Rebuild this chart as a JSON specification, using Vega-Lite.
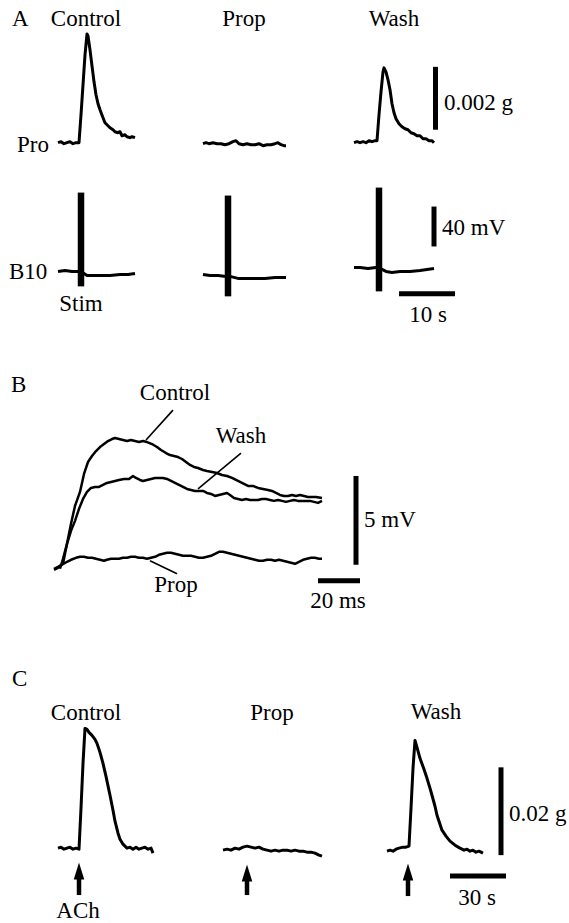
{
  "$schema": "https://vega.github.io/schema/vega-lite/v6.json",
  "width": 569,
  "height": 923,
  "autosize": {"type": "fit", "contains": "padding"},
  "padding": 0,
  "background": "white",
  "config": {"view": {"stroke": null}, "text": {"font": "'Liberation Serif', 'Times New Roman', 'DejaVu Serif', serif"}},
  "datasets": {
    "tracesAC": [
      {"s":"A_ctrl","x":58,"y":143},{"s":"A_ctrl","x":61,"y":142},{"s":"A_ctrl","x":64,"y":144},{"s":"A_ctrl","x":67,"y":143},{"s":"A_ctrl","x":70,"y":142},{"s":"A_ctrl","x":73,"y":144},{"s":"A_ctrl","x":76,"y":143},{"s":"A_ctrl","x":79,"y":143},{"s":"A_ctrl","x":81,"y":115},{"s":"A_ctrl","x":83,"y":85},{"s":"A_ctrl","x":85,"y":55},{"s":"A_ctrl","x":87,"y":34},{"s":"A_ctrl","x":88,"y":36},{"s":"A_ctrl","x":90,"y":50},{"s":"A_ctrl","x":92,"y":66},{"s":"A_ctrl","x":94,"y":82},{"s":"A_ctrl","x":96,"y":95},{"s":"A_ctrl","x":98,"y":104},{"s":"A_ctrl","x":100,"y":110},{"s":"A_ctrl","x":103,"y":118},{"s":"A_ctrl","x":105,"y":123},{"s":"A_ctrl","x":108,"y":126},{"s":"A_ctrl","x":110,"y":128},{"s":"A_ctrl","x":113,"y":130},{"s":"A_ctrl","x":115,"y":132},{"s":"A_ctrl","x":118,"y":133},{"s":"A_ctrl","x":120,"y":132},{"s":"A_ctrl","x":122,"y":136},{"s":"A_ctrl","x":125,"y":135},{"s":"A_ctrl","x":127,"y":137},{"s":"A_ctrl","x":130,"y":138},{"s":"A_ctrl","x":132,"y":137},{"s":"A_ctrl","x":135,"y":138},
      {"s":"A_prop","x":203,"y":144},{"s":"A_prop","x":206,"y":143},{"s":"A_prop","x":209,"y":144},{"s":"A_prop","x":213,"y":143},{"s":"A_prop","x":217,"y":144},{"s":"A_prop","x":221,"y":144},{"s":"A_prop","x":225,"y":145},{"s":"A_prop","x":229,"y":144},{"s":"A_prop","x":233,"y":142},{"s":"A_prop","x":236,"y":141},{"s":"A_prop","x":239,"y":144},{"s":"A_prop","x":243,"y":145},{"s":"A_prop","x":247,"y":144},{"s":"A_prop","x":251,"y":145},{"s":"A_prop","x":255,"y":145},{"s":"A_prop","x":259,"y":144},{"s":"A_prop","x":263,"y":146},{"s":"A_prop","x":267,"y":145},{"s":"A_prop","x":271,"y":145},{"s":"A_prop","x":275,"y":144},{"s":"A_prop","x":278,"y":143},{"s":"A_prop","x":281,"y":145},{"s":"A_prop","x":284,"y":146},{"s":"A_prop","x":286,"y":146},
      {"s":"A_wash","x":354,"y":143},{"s":"A_wash","x":357,"y":142},{"s":"A_wash","x":360,"y":143},{"s":"A_wash","x":363,"y":142},{"s":"A_wash","x":366,"y":143},{"s":"A_wash","x":369,"y":141},{"s":"A_wash","x":372,"y":142},{"s":"A_wash","x":375,"y":141},{"s":"A_wash","x":377,"y":141},{"s":"A_wash","x":379,"y":115},{"s":"A_wash","x":381,"y":92},{"s":"A_wash","x":383,"y":72},{"s":"A_wash","x":384,"y":68},{"s":"A_wash","x":386,"y":72},{"s":"A_wash","x":388,"y":80},{"s":"A_wash","x":390,"y":90},{"s":"A_wash","x":392,"y":104},{"s":"A_wash","x":394,"y":113},{"s":"A_wash","x":396,"y":119},{"s":"A_wash","x":399,"y":124},{"s":"A_wash","x":402,"y":127},{"s":"A_wash","x":405,"y":129},{"s":"A_wash","x":408,"y":130},{"s":"A_wash","x":411,"y":133},{"s":"A_wash","x":414,"y":134},{"s":"A_wash","x":417,"y":136},{"s":"A_wash","x":420,"y":136},{"s":"A_wash","x":423,"y":139},{"s":"A_wash","x":426,"y":139},{"s":"A_wash","x":429,"y":141},{"s":"A_wash","x":432,"y":141},{"s":"A_wash","x":434,"y":143},
      {"s":"A10_ctrl","x":58,"y":272},{"s":"A10_ctrl","x":65,"y":271},{"s":"A10_ctrl","x":72,"y":272},{"s":"A10_ctrl","x":79,"y":272},{"s":"A10_ctrl","x":81,"y":272},{"s":"A10_ctrl","x":84,"y":274},{"s":"A10_ctrl","x":87,"y":276},{"s":"A10_ctrl","x":92,"y":276},{"s":"A10_ctrl","x":100,"y":276},{"s":"A10_ctrl","x":110,"y":276},{"s":"A10_ctrl","x":120,"y":275},{"s":"A10_ctrl","x":128,"y":275},{"s":"A10_ctrl","x":135,"y":274},
      {"s":"A10_prop","x":203,"y":275},{"s":"A10_prop","x":210,"y":276},{"s":"A10_prop","x":218,"y":276},{"s":"A10_prop","x":226,"y":277},{"s":"A10_prop","x":230,"y":277},{"s":"A10_prop","x":234,"y":278},{"s":"A10_prop","x":238,"y":279},{"s":"A10_prop","x":245,"y":279},{"s":"A10_prop","x":255,"y":279},{"s":"A10_prop","x":265,"y":279},{"s":"A10_prop","x":275,"y":278},{"s":"A10_prop","x":286,"y":278},
      {"s":"A10_wash","x":354,"y":268},{"s":"A10_wash","x":360,"y":268},{"s":"A10_wash","x":368,"y":269},{"s":"A10_wash","x":376,"y":268},{"s":"A10_wash","x":379,"y":268},{"s":"A10_wash","x":382,"y":270},{"s":"A10_wash","x":386,"y":272},{"s":"A10_wash","x":392,"y":273},{"s":"A10_wash","x":400,"y":272},{"s":"A10_wash","x":410,"y":272},{"s":"A10_wash","x":420,"y":271},{"s":"A10_wash","x":434,"y":269},
      {"s":"C_ctrl","x":58,"y":850},{"s":"C_ctrl","x":61,"y":849},{"s":"C_ctrl","x":64,"y":851},{"s":"C_ctrl","x":67,"y":850},{"s":"C_ctrl","x":70,"y":849},{"s":"C_ctrl","x":73,"y":851},{"s":"C_ctrl","x":76,"y":850},{"s":"C_ctrl","x":79,"y":851},{"s":"C_ctrl","x":81,"y":810},{"s":"C_ctrl","x":83,"y":765},{"s":"C_ctrl","x":85,"y":730},{"s":"C_ctrl","x":87,"y":731},{"s":"C_ctrl","x":89,"y":734},{"s":"C_ctrl","x":92,"y":737},{"s":"C_ctrl","x":95,"y":741},{"s":"C_ctrl","x":97,"y":745},{"s":"C_ctrl","x":100,"y":754},{"s":"C_ctrl","x":103,"y":765},{"s":"C_ctrl","x":106,"y":778},{"s":"C_ctrl","x":110,"y":797},{"s":"C_ctrl","x":113,"y":812},{"s":"C_ctrl","x":115,"y":823},{"s":"C_ctrl","x":118,"y":835},{"s":"C_ctrl","x":120,"y":841},{"s":"C_ctrl","x":123,"y":846},{"s":"C_ctrl","x":127,"y":850},{"s":"C_ctrl","x":130,"y":849},{"s":"C_ctrl","x":133,"y":851},{"s":"C_ctrl","x":136,"y":849},{"s":"C_ctrl","x":139,"y":851},{"s":"C_ctrl","x":142,"y":850},{"s":"C_ctrl","x":145,"y":849},{"s":"C_ctrl","x":148,"y":851},{"s":"C_ctrl","x":151,"y":850},{"s":"C_ctrl","x":153,"y":855},
      {"s":"C_prop","x":223,"y":852},{"s":"C_prop","x":227,"y":851},{"s":"C_prop","x":231,"y":852},{"s":"C_prop","x":235,"y":850},{"s":"C_prop","x":239,"y":851},{"s":"C_prop","x":243,"y":849},{"s":"C_prop","x":247,"y":848},{"s":"C_prop","x":251,"y":849},{"s":"C_prop","x":255,"y":850},{"s":"C_prop","x":259,"y":849},{"s":"C_prop","x":263,"y":851},{"s":"C_prop","x":267,"y":852},{"s":"C_prop","x":271,"y":853},{"s":"C_prop","x":275,"y":852},{"s":"C_prop","x":279,"y":853},{"s":"C_prop","x":283,"y":852},{"s":"C_prop","x":287,"y":852},{"s":"C_prop","x":291,"y":853},{"s":"C_prop","x":295,"y":852},{"s":"C_prop","x":299,"y":853},{"s":"C_prop","x":303,"y":853},{"s":"C_prop","x":307,"y":854},{"s":"C_prop","x":311,"y":854},{"s":"C_prop","x":315,"y":855},{"s":"C_prop","x":319,"y":857},{"s":"C_prop","x":322,"y":858},
      {"s":"C_wash","x":387,"y":853},{"s":"C_wash","x":390,"y":852},{"s":"C_wash","x":393,"y":853},{"s":"C_wash","x":396,"y":851},{"s":"C_wash","x":399,"y":850},{"s":"C_wash","x":403,"y":849},{"s":"C_wash","x":406,"y":849},{"s":"C_wash","x":409,"y":848},{"s":"C_wash","x":411,"y":810},{"s":"C_wash","x":413,"y":770},{"s":"C_wash","x":415,"y":742},{"s":"C_wash","x":417,"y":749},{"s":"C_wash","x":420,"y":760},{"s":"C_wash","x":424,"y":771},{"s":"C_wash","x":427,"y":780},{"s":"C_wash","x":430,"y":790},{"s":"C_wash","x":432,"y":797},{"s":"C_wash","x":435,"y":808},{"s":"C_wash","x":437,"y":817},{"s":"C_wash","x":440,"y":826},{"s":"C_wash","x":442,"y":832},{"s":"C_wash","x":446,"y":838},{"s":"C_wash","x":450,"y":843},{"s":"C_wash","x":455,"y":847},{"s":"C_wash","x":460,"y":850},{"s":"C_wash","x":464,"y":852},{"s":"C_wash","x":467,"y":851},{"s":"C_wash","x":470,"y":853},{"s":"C_wash","x":473,"y":852},{"s":"C_wash","x":476,"y":854},{"s":"C_wash","x":479,"y":853},{"s":"C_wash","x":483,"y":855}
    ],
    "tracesB": [
      {"s":"ctrl","x":54,"y":570},{"s":"ctrl","x":58,"y":568},{"s":"ctrl","x":63,"y":565},{"s":"ctrl","x":67,"y":545},{"s":"ctrl","x":71,"y":525},{"s":"ctrl","x":75,"y":507},{"s":"ctrl","x":80,"y":493},{"s":"ctrl","x":84,"y":475},{"s":"ctrl","x":88,"y":463},{"s":"ctrl","x":92,"y":457},{"s":"ctrl","x":96,"y":452},{"s":"ctrl","x":100,"y":448},{"s":"ctrl","x":104,"y":445},{"s":"ctrl","x":108,"y":442},{"s":"ctrl","x":112,"y":440},{"s":"ctrl","x":115,"y":439},{"s":"ctrl","x":119,"y":440},{"s":"ctrl","x":123,"y":441},{"s":"ctrl","x":127,"y":442},{"s":"ctrl","x":131,"y":441},{"s":"ctrl","x":135,"y":442},{"s":"ctrl","x":139,"y":443},{"s":"ctrl","x":143,"y":442},{"s":"ctrl","x":147,"y":443},{"s":"ctrl","x":152,"y":445},{"s":"ctrl","x":157,"y":448},{"s":"ctrl","x":161,"y":451},{"s":"ctrl","x":166,"y":454},{"s":"ctrl","x":170,"y":456},{"s":"ctrl","x":174,"y":457},{"s":"ctrl","x":178,"y":458},{"s":"ctrl","x":182,"y":460},{"s":"ctrl","x":186,"y":463},{"s":"ctrl","x":190,"y":466},{"s":"ctrl","x":194,"y":468},{"s":"ctrl","x":198,"y":469},{"s":"ctrl","x":203,"y":471},{"s":"ctrl","x":207,"y":472},{"s":"ctrl","x":212,"y":473},{"s":"ctrl","x":217,"y":474},{"s":"ctrl","x":222,"y":476},{"s":"ctrl","x":227,"y":477},{"s":"ctrl","x":232,"y":479},{"s":"ctrl","x":236,"y":481},{"s":"ctrl","x":240,"y":483},{"s":"ctrl","x":244,"y":485},{"s":"ctrl","x":248,"y":487},{"s":"ctrl","x":253,"y":487},{"s":"ctrl","x":258,"y":489},{"s":"ctrl","x":263,"y":490},{"s":"ctrl","x":268,"y":491},{"s":"ctrl","x":272,"y":492},{"s":"ctrl","x":276,"y":494},{"s":"ctrl","x":280,"y":496},{"s":"ctrl","x":284,"y":497},{"s":"ctrl","x":288,"y":497},{"s":"ctrl","x":292,"y":496},{"s":"ctrl","x":296,"y":497},{"s":"ctrl","x":300,"y":496},{"s":"ctrl","x":304,"y":497},{"s":"ctrl","x":308,"y":498},{"s":"ctrl","x":312,"y":498},{"s":"ctrl","x":316,"y":498},{"s":"ctrl","x":322,"y":499},
      {"s":"wash","x":60,"y":570},{"s":"wash","x":63,"y":560},{"s":"wash","x":67,"y":545},{"s":"wash","x":71,"y":532},{"s":"wash","x":75,"y":522},{"s":"wash","x":79,"y":510},{"s":"wash","x":83,"y":500},{"s":"wash","x":87,"y":493},{"s":"wash","x":91,"y":489},{"s":"wash","x":95,"y":488},{"s":"wash","x":99,"y":488},{"s":"wash","x":103,"y":486},{"s":"wash","x":107,"y":484},{"s":"wash","x":111,"y":483},{"s":"wash","x":115,"y":482},{"s":"wash","x":119,"y":481},{"s":"wash","x":124,"y":480},{"s":"wash","x":129,"y":480},{"s":"wash","x":133,"y":477},{"s":"wash","x":136,"y":479},{"s":"wash","x":140,"y":481},{"s":"wash","x":143,"y":482},{"s":"wash","x":147,"y":481},{"s":"wash","x":151,"y":480},{"s":"wash","x":155,"y":479},{"s":"wash","x":159,"y":479},{"s":"wash","x":163,"y":479},{"s":"wash","x":167,"y":480},{"s":"wash","x":171,"y":482},{"s":"wash","x":175,"y":484},{"s":"wash","x":179,"y":486},{"s":"wash","x":183,"y":488},{"s":"wash","x":187,"y":490},{"s":"wash","x":191,"y":491},{"s":"wash","x":195,"y":492},{"s":"wash","x":199,"y":492},{"s":"wash","x":203,"y":492},{"s":"wash","x":207,"y":494},{"s":"wash","x":211,"y":495},{"s":"wash","x":215,"y":497},{"s":"wash","x":219,"y":496},{"s":"wash","x":223,"y":495},{"s":"wash","x":227,"y":494},{"s":"wash","x":230,"y":496},{"s":"wash","x":234,"y":499},{"s":"wash","x":238,"y":500},{"s":"wash","x":242,"y":501},{"s":"wash","x":246,"y":500},{"s":"wash","x":250,"y":501},{"s":"wash","x":254,"y":501},{"s":"wash","x":258,"y":501},{"s":"wash","x":262,"y":500},{"s":"wash","x":266,"y":500},{"s":"wash","x":270,"y":501},{"s":"wash","x":274,"y":502},{"s":"wash","x":278,"y":501},{"s":"wash","x":282,"y":502},{"s":"wash","x":286,"y":503},{"s":"wash","x":290,"y":502},{"s":"wash","x":294,"y":501},{"s":"wash","x":298,"y":502},{"s":"wash","x":302,"y":502},{"s":"wash","x":306,"y":502},{"s":"wash","x":310,"y":502},{"s":"wash","x":314,"y":503},{"s":"wash","x":318,"y":504},{"s":"wash","x":322,"y":502},
      {"s":"prop","x":54,"y":571},{"s":"prop","x":58,"y":569},{"s":"prop","x":62,"y":566},{"s":"prop","x":67,"y":563},{"s":"prop","x":71,"y":561},{"s":"prop","x":76,"y":559},{"s":"prop","x":80,"y":558},{"s":"prop","x":84,"y":558},{"s":"prop","x":88,"y":559},{"s":"prop","x":92,"y":559},{"s":"prop","x":96,"y":560},{"s":"prop","x":100,"y":561},{"s":"prop","x":104,"y":562},{"s":"prop","x":107,"y":561},{"s":"prop","x":111,"y":560},{"s":"prop","x":115,"y":560},{"s":"prop","x":119,"y":560},{"s":"prop","x":123,"y":559},{"s":"prop","x":127,"y":559},{"s":"prop","x":131,"y":558},{"s":"prop","x":135,"y":558},{"s":"prop","x":139,"y":559},{"s":"prop","x":143,"y":559},{"s":"prop","x":147,"y":560},{"s":"prop","x":151,"y":559},{"s":"prop","x":155,"y":558},{"s":"prop","x":159,"y":556},{"s":"prop","x":163,"y":555},{"s":"prop","x":167,"y":554},{"s":"prop","x":171,"y":554},{"s":"prop","x":175,"y":555},{"s":"prop","x":179,"y":556},{"s":"prop","x":183,"y":557},{"s":"prop","x":187,"y":557},{"s":"prop","x":191,"y":557},{"s":"prop","x":195,"y":558},{"s":"prop","x":199,"y":559},{"s":"prop","x":203,"y":559},{"s":"prop","x":207,"y":558},{"s":"prop","x":211,"y":557},{"s":"prop","x":215,"y":555},{"s":"prop","x":219,"y":553},{"s":"prop","x":223,"y":553},{"s":"prop","x":227,"y":554},{"s":"prop","x":231,"y":555},{"s":"prop","x":235,"y":556},{"s":"prop","x":239,"y":557},{"s":"prop","x":243,"y":558},{"s":"prop","x":247,"y":559},{"s":"prop","x":251,"y":560},{"s":"prop","x":255,"y":561},{"s":"prop","x":259,"y":562},{"s":"prop","x":263,"y":562},{"s":"prop","x":267,"y":561},{"s":"prop","x":271,"y":561},{"s":"prop","x":275,"y":562},{"s":"prop","x":279,"y":561},{"s":"prop","x":283,"y":562},{"s":"prop","x":287,"y":563},{"s":"prop","x":291,"y":564},{"s":"prop","x":295,"y":565},{"s":"prop","x":299,"y":563},{"s":"prop","x":303,"y":561},{"s":"prop","x":307,"y":560},{"s":"prop","x":311,"y":559},{"s":"prop","x":315,"y":559},{"s":"prop","x":319,"y":560},{"s":"prop","x":322,"y":560}
    ],
    "pointers": [
      {"s":"ctrl","x":146,"y":441},{"s":"ctrl","x":173,"y":411},
      {"s":"wash","x":198,"y":490},{"s":"wash","x":241,"y":454},
      {"s":"prop","x":150,"y":562},{"s":"prop","x":177,"y":575}
    ],
    "stim": [
      {"x":81,"y":193,"x2":81,"y2":287},
      {"x":228,"y":196,"x2":228,"y2":297},
      {"x":379,"y":188,"x2":379,"y2":292}
    ],
    "scalebars": [
      {"x":435.5,"y":67,"x2":435.5,"y2":130},
      {"x":434,"y":207,"x2":434,"y2":247},
      {"x":399,"y":294.5,"x2":455,"y2":294.5},
      {"x":356,"y":477,"x2":356,"y2":566},
      {"x":318,"y":582,"x2":360,"y2":582},
      {"x":501,"y":769,"x2":501,"y2":857},
      {"x":450,"y":878,"x2":506,"y2":878}
    ],
    "arrows": [
      {"x":79,"head":873,"top":878,"bottom":897},
      {"x":247,"head":875,"top":880,"bottom":897},
      {"x":408,"head":874,"top":879,"bottom":898}
    ],
    "labelsCenter": [
      {"t":"Control","x":86,"y":26},
      {"t":"Prop","x":244,"y":26},
      {"t":"Wash","x":394,"y":26},
      {"t":"Stim","x":81,"y":312},
      {"t":"10 s","x":428,"y":323},
      {"t":"Control","x":175,"y":401},
      {"t":"Wash","x":241,"y":444},
      {"t":"Prop","x":176,"y":593},
      {"t":"20 ms","x":338,"y":609},
      {"t":"Control","x":86,"y":722},
      {"t":"Prop","x":272,"y":722},
      {"t":"Wash","x":436,"y":721},
      {"t":"ACh","x":78,"y":920},
      {"t":"30 s","x":477,"y":907}
    ],
    "labelsLeft": [
      {"t":"A","x":12,"y":26},
      {"t":"Pro","x":17,"y":152},
      {"t":"0.002 g","x":444,"y":110},
      {"t":"B10","x":9,"y":280},
      {"t":"40 mV","x":442,"y":236},
      {"t":"B","x":11,"y":393},
      {"t":"5 mV","x":364,"y":528},
      {"t":"C","x":12,"y":687},
      {"t":"0.02 g","x":509,"y":823}
    ]
  },
  "layer": [
    {
      "data": {"name": "tracesAC"},
      "mark": {"type": "line", "color": "black", "strokeWidth": 3, "strokeJoin": "round"},
      "encoding": {
        "x": {"field": "x", "type": "quantitative", "scale": {"domain": [0, 569], "nice": false, "zero": false}, "axis": null},
        "y": {"field": "y", "type": "quantitative", "scale": {"domain": [0, 923], "reverse": true, "nice": false, "zero": false}, "axis": null},
        "detail": {"field": "s"}
      }
    },
    {
      "data": {"name": "tracesB"},
      "mark": {"type": "line", "color": "black", "strokeWidth": 2.5, "strokeJoin": "round"},
      "encoding": {
        "x": {"field": "x", "type": "quantitative", "axis": null},
        "y": {"field": "y", "type": "quantitative", "axis": null},
        "detail": {"field": "s"}
      }
    },
    {
      "data": {"name": "pointers"},
      "mark": {"type": "line", "color": "black", "strokeWidth": 1.6},
      "encoding": {
        "x": {"field": "x", "type": "quantitative", "axis": null},
        "y": {"field": "y", "type": "quantitative", "axis": null},
        "detail": {"field": "s"}
      }
    },
    {
      "data": {"name": "stim"},
      "mark": {"type": "rule", "color": "black", "strokeWidth": 6.5},
      "encoding": {
        "x": {"field": "x", "type": "quantitative", "axis": null},
        "y": {"field": "y", "type": "quantitative", "axis": null},
        "x2": {"field": "x2"},
        "y2": {"field": "y2"}
      }
    },
    {
      "data": {"name": "scalebars"},
      "mark": {"type": "rule", "color": "black", "strokeWidth": 5},
      "encoding": {
        "x": {"field": "x", "type": "quantitative", "axis": null},
        "y": {"field": "y", "type": "quantitative", "axis": null},
        "x2": {"field": "x2"},
        "y2": {"field": "y2"}
      }
    },
    {
      "data": {"name": "arrows"},
      "mark": {"type": "rule", "color": "black", "strokeWidth": 4.5},
      "encoding": {
        "x": {"field": "x", "type": "quantitative", "axis": null},
        "y": {"field": "top", "type": "quantitative", "axis": null},
        "y2": {"field": "bottom"}
      }
    },
    {
      "data": {"name": "arrows"},
      "mark": {"type": "point", "shape": "M0,-1L0.62,1L-0.62,1Z", "filled": true, "color": "black", "opacity": 1, "size": 290, "strokeWidth": 0},
      "encoding": {
        "x": {"field": "x", "type": "quantitative", "axis": null},
        "y": {"field": "head", "type": "quantitative", "axis": null}
      }
    },
    {
      "data": {"name": "labelsCenter"},
      "mark": {"type": "text", "fontSize": 23, "align": "center", "baseline": "alphabetic", "color": "black"},
      "encoding": {
        "x": {"field": "x", "type": "quantitative", "axis": null},
        "y": {"field": "y", "type": "quantitative", "axis": null},
        "text": {"field": "t"}
      }
    },
    {
      "data": {"name": "labelsLeft"},
      "mark": {"type": "text", "fontSize": 23, "align": "left", "baseline": "alphabetic", "color": "black"},
      "encoding": {
        "x": {"field": "x", "type": "quantitative", "axis": null},
        "y": {"field": "y", "type": "quantitative", "axis": null},
        "text": {"field": "t"}
      }
    }
  ]
}
